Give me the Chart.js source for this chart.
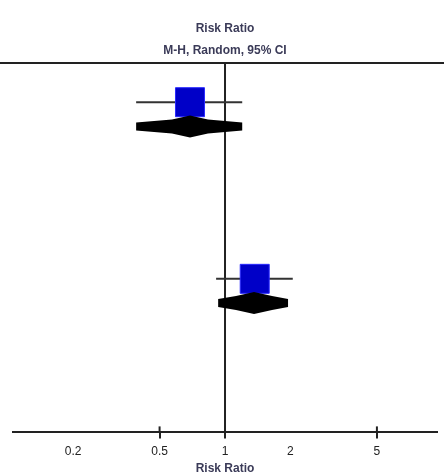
<!DOCTYPE html>
<html>
<head>
<meta charset="utf-8">
<script src="https://cdn.jsdelivr.net/npm/chart.js@4/dist/chart.umd.min.js"></script>
<style>
  html, body { margin: 0; padding: 0; background: #fff; overflow: hidden; }
  #wrap { width: 444px; height: 476px; position: relative; }
</style>
</head>
<body>
<div id="wrap"><canvas id="forest"></canvas></div>
<script>
// forest plot data (risk ratio, log scale)
const studyLabels = ['Study 1', 'Study 2'];
const studyRR = [0.69, 1.37];
const studyLow = [0.39, 0.91];
const studyHigh = [1.2, 2.05];
const pooledRR = [0.69, 1.36];
const pooledLow = [0.39, 0.93];
const pooledHigh = [1.2, 1.95];
const studyRows = [1.7, 9.35];
const pooledRows = [2.75, 10.4];
const tickValues = [0.2, 0.5, 1, 2, 5];
const markedTicks = [0.5, 1, 5];

const FONT = 'Liberation Sans, Arial, sans-serif';

const ciDatasets = studyLabels.map((name, i) => ({
  type: 'line',
  label: name + ' CI',
  data: [{ x: studyLow[i], y: studyRows[i] }, { x: studyHigh[i], y: studyRows[i] }],
  borderColor: '#333',
  borderWidth: 2,
  pointRadius: 0,
  order: 2
}));

const forestLines = {
  id: 'forestLines',
  beforeDatasetsDraw(chart) {
    const { ctx, chartArea, scales } = chart;
    const x = scales.x;
    ctx.save();
    ctx.strokeStyle = '#222';
    ctx.lineWidth = 2;
    // top rule
    ctx.beginPath();
    ctx.moveTo(0, chartArea.top);
    ctx.lineTo(chart.width, chartArea.top);
    ctx.stroke();
    // line of no effect
    const x1 = x.getPixelForValue(1);
    ctx.beginPath();
    ctx.moveTo(x1, chartArea.top);
    ctx.lineTo(x1, chartArea.bottom);
    ctx.stroke();
    // tick stubs above the axis
    markedTicks.forEach(v => {
      const px = x.getPixelForValue(v);
      ctx.beginPath();
      ctx.moveTo(px, chartArea.bottom - 6);
      ctx.lineTo(px, chartArea.bottom);
      ctx.stroke();
    });
    ctx.restore();
  },
  afterDatasetsDraw(chart) {
    const { ctx, scales } = chart;
    const x = scales.x, y = scales.y;
    ctx.save();
    ctx.fillStyle = '#000';
    pooledRR.forEach((rr, i) => {
      const cy = y.getPixelForValue(pooledRows[i]);
      const lo = x.getPixelForValue(pooledLow[i]);
      const hi = x.getPixelForValue(pooledHigh[i]);
      const mid = x.getPixelForValue(rr);
      ctx.beginPath();
      ctx.moveTo(lo, cy - 4);
      ctx.lineTo(mid - 18, cy - 7);
      ctx.lineTo(mid, cy - 11);
      ctx.lineTo(mid + 18, cy - 7);
      ctx.lineTo(hi, cy - 4);
      ctx.lineTo(hi, cy + 4);
      ctx.lineTo(mid + 18, cy + 7);
      ctx.lineTo(mid, cy + 11);
      ctx.lineTo(mid - 18, cy + 7);
      ctx.lineTo(lo, cy + 4);
      ctx.closePath();
      ctx.fill();
    });
    ctx.restore();
  }
};

new Chart(document.getElementById('forest'), {
  type: 'scatter',
  plugins: [forestLines],
  data: {
    datasets: [
      {
        label: 'Risk ratio',
        data: studyRR.map((v, i) => ({ x: v, y: studyRows[i] })),
        pointStyle: 'rect',
        pointRadius: 20.5,
        backgroundColor: '#0000c8',
        borderColor: '#2a2aff',
        borderWidth: 1,
        order: 1
      },
      ...ciDatasets
    ]
  },
  options: {
    responsive: true,
    maintainAspectRatio: false,
    animation: false,
    layout: { autoPadding: false, padding: { left: 13, right: 7, top: 0, bottom: 0 } },
    plugins: {
      legend: { display: false },
      tooltip: { enabled: false },
      title: {
        display: true,
        text: ['Risk Ratio', 'M-H, Random, 95% CI'],
        color: '#3b3b58',
        font: { family: FONT, size: 12, weight: 'bold', lineHeight: 1.83 },
        padding: { top: 18, bottom: 1 }
      }
    },
    scales: {
      x: {
        type: 'logarithmic',
        min: 0.1058,
        max: 9.45,
        afterBuildTicks: scale => { scale.ticks = tickValues.map(v => ({ value: v })); },
        ticks: {
          color: '#222',
          font: { family: FONT, size: 12 },
          padding: 6,
          autoSkip: false,
          maxRotation: 0,
          callback: v => String(v)
        },
        grid: {
          drawOnChartArea: false,
          drawTicks: true,
          tickLength: 6,
          lineWidth: 2,
          color: c => (c.tick && markedTicks.includes(c.tick.value)) ? '#222' : 'rgba(0,0,0,0)'
        },
        border: { display: true, color: '#222', width: 2 },
        title: {
          display: true,
          text: 'Risk Ratio',
          color: '#3b3b58',
          font: { family: FONT, size: 12, weight: 'bold', lineHeight: 0.6 },
          padding: { top: 0, bottom: 4 }
        }
      },
      y: {
        type: 'linear',
        display: false,
        reverse: true,
        min: 0,
        max: 16
      }
    }
  }
});
</script>
</body>
</html>
